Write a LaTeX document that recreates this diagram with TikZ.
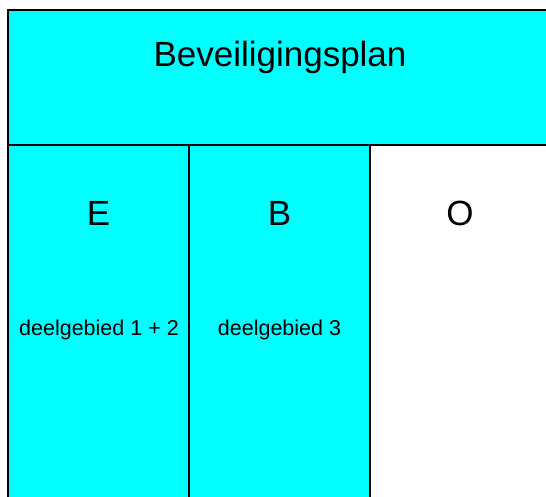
\documentclass[tikz,border=0pt]{standalone}
\usepackage{fontspec}
\setmainfont{Liberation Sans}
\definecolor{aqua}{RGB}{0,255,255}
\begin{document}
\begin{tikzpicture}[x=1pt,y=-1pt,
  big/.style={font=\fontsize{35}{40}\selectfont},
  small/.style={font=\fontsize{21.5}{25}\selectfont}]
\useasboundingbox (0,0) rectangle (546,497);
\fill[white] (0,0) rectangle (546,497);
\fill[aqua] (8,10) rectangle (546,497);
\fill[white] (370,145) rectangle (546,497);
\draw[line width=2pt] (8,498) -- (8,10) -- (547,10);
\draw[line width=2pt] (8,145) -- (547,145);
\draw[line width=2pt] (189,145) -- (189,498);
\draw[line width=2pt] (370,145) -- (370,498);
\node[big] (title) at (280,57) {Beveiligingsplan};
\node[big] (e) at (98.5,213) {E};
\node[big] (b) at (279.5,213) {B};
\node[big] (o) at (460,213) {O};
\node[small] (d12) at (99,330) {deelgebied 1 + 2};
\node[small] (d3) at (279.5,330) {deelgebied 3};
\end{tikzpicture}
\end{document}
